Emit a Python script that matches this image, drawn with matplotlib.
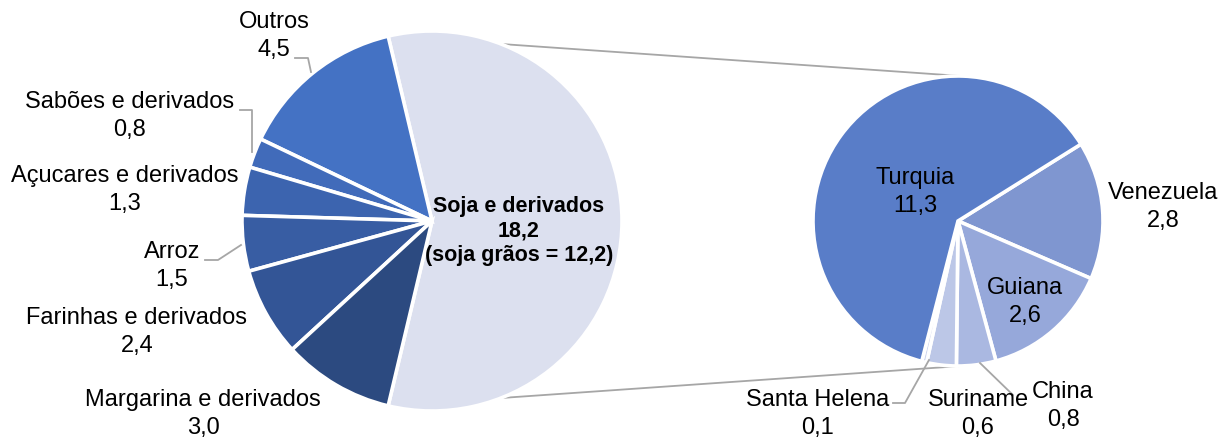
import numpy as np
import matplotlib.pyplot as plt

# left pie: exports by product group
main_labels = ['Soja e derivados', 'Outros', 'Sabões e derivados', 'Açucares e derivados',
               'Arroz', 'Farinhas e derivados', 'Margarina e derivados']
main_values = [18.2, 4.5, 0.8, 1.3, 1.5, 2.4, 3.0]
main_colors = ['#DCE0EF', '#4472C4', '#416BBA', '#3C64AF', '#385DA3', '#335596', '#2C4A80']

# right pie: soja breakdown by destination
sub_labels = ['Venezuela', 'Guiana', 'China', 'Suriname', 'Santa Helena', 'Turquia']
sub_values = [2.8, 2.6, 0.8, 0.6, 0.1, 11.3]
sub_colors = ['#7F96D0', '#96A8DA', '#AAB8E1', '#BCC7E7', '#CDD5EE', '#597DC8']

soja_grains = 12.2


def fmt(v):
    return f'{v:.1f}'.replace('.', ',')


W, H = 1225, 441
fig = plt.figure(figsize=(W / 100, H / 100), dpi=100)
ax = fig.add_axes([0, 0, 1, 1])
plt.rcParams['font.family'] = ['Liberation Sans', 'DejaVu Sans']

c1, r1 = (432, 220), 190
c2, r2 = (958, 220), 145
edge = dict(edgecolor='white', linewidth=2.6)

soja_angle = main_values[0] / sum(main_values) * 360
w1, _ = ax.pie(main_values, colors=main_colors, startangle=-soja_angle / 2,
               counterclock=True, center=c1, radius=r1, wedgeprops=edge)
w2, _ = ax.pie(sub_values, colors=sub_colors, startangle=32,
               counterclock=False, center=c2, radius=r2, wedgeprops=edge)

# connector lines between the two pies
gray = '#A6A6A6'
for ang, ty in [(soja_angle / 2, c2[1] + r2), (-soja_angle / 2, c2[1] - r2)]:
    x0 = c1[0] + r1 * np.cos(np.radians(ang))
    y0 = c1[1] + r1 * np.sin(np.radians(ang))
    ax.plot([x0, c2[0] + 3], [y0, ty], color=gray, lw=1.3, zorder=0)


def Y(ypix):
    return H - ypix


fs = 17
# label positions in pixels (x, y from top)
main_pos = {
    'Outros': (274, 36),
    'Sabões e derivados': (130, 116),
    'Açucares e derivados': (125, 190),
    'Arroz': (172, 266),
    'Farinhas e derivados': (137, 332),
    'Margarina e derivados': (203, 414),
}
for lab, val in zip(main_labels[1:], main_values[1:]):
    x, y = main_pos[lab]
    ax.text(x, Y(y), f'{lab}\n{fmt(val)}', ha='center', va='center', fontsize=fs,
            linespacing=1.4)

ax.text(519, Y(231), f'Soja e derivados\n{fmt(main_values[0])}\n(soja grãos = {fmt(soja_grains)})',
        ha='center', va='center', fontsize=15.5, fontweight='bold', linespacing=1.22)

sub_pos = {
    'Turquia': (915, 192),
    'Venezuela': (1163, 207),
    'Guiana': (1025, 302),
    'China': (1063, 406),
    'Suriname': (978, 414),
    'Santa Helena': (818, 414),
}
for lab, val in zip(sub_labels, sub_values):
    x, y = sub_pos[lab]
    ax.text(x, Y(y), f'{lab}\n{fmt(val)}', ha='center', va='center', fontsize=fs,
            linespacing=1.4)

# leader lines (pixel coords)
leaders = [
    [(295, 58), (308, 58), (311, 72)],
    [(240, 110), (252, 110), (252, 152)],
    [(205, 260), (218, 260), (241, 245)],
    [(893, 403), (905, 403), (929, 360)],
    [(980, 363), (1013, 395)],
]
for pts in leaders:
    xs = [p[0] for p in pts]
    ys = [Y(p[1]) for p in pts]
    ax.plot(xs, ys, color=gray, lw=1.3)

ax.set_xlim(0, W)
ax.set_ylim(0, H)
ax.set_aspect('equal')
ax.axis('off')

fig.savefig('out.png', dpi=100)
